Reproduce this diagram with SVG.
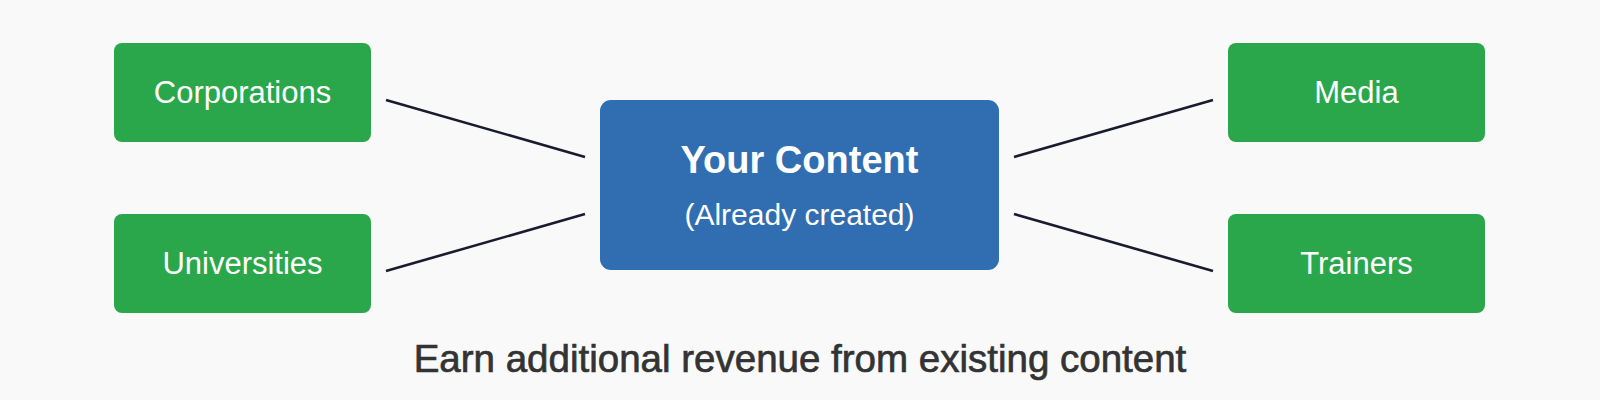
<svg xmlns="http://www.w3.org/2000/svg" width="1600" height="400" viewBox="0 0 1600 400">
<style>
.g{fill:#2aa74a}
.t{font-family:"Liberation Sans",Arial,sans-serif;fill:#fff;text-anchor:middle}
.c{stroke:#1b1b2f;stroke-width:2.6;fill:none}
</style>
<rect width="1600" height="400" fill="#f9f9f9"/>
<g id="connectors">
<line class="c" x1="386" y1="100" x2="585" y2="157"/>
<line class="c" x1="386" y1="271" x2="585" y2="214"/>
<line class="c" x1="1014" y1="157" x2="1213" y2="100"/>
<line class="c" x1="1014" y1="214" x2="1213" y2="271"/>
</g>
<g id="corporations"><rect class="g" x="114" y="43" width="257" height="99" rx="8"/><text class="t" x="242.5" y="103" font-size="31">Corporations</text></g>
<g id="universities"><rect class="g" x="114" y="214" width="257" height="99" rx="8"/><text class="t" x="242.5" y="274" font-size="31">Universities</text></g>
<g id="media"><rect class="g" x="1228" y="43" width="257" height="99" rx="8"/><text class="t" x="1356.5" y="103" font-size="31">Media</text></g>
<g id="trainers"><rect class="g" x="1228" y="214" width="257" height="99" rx="8"/><text class="t" x="1356.5" y="274" font-size="31">Trainers</text></g>
<g id="content"><rect x="600" y="100" width="399" height="170" rx="11" fill="#306eb1"/><text class="t" x="799.5" y="173" font-size="38" font-weight="bold">Your Content</text><text class="t" x="799.5" y="225" font-size="30" fill="#e6eef8">(Already created)</text></g>
<text x="800" y="372" font-family="'Liberation Sans',Arial,sans-serif" font-size="38.5" fill="#333" stroke="#333" stroke-width="0.7" text-anchor="middle">Earn additional revenue from existing content</text>
</svg>
